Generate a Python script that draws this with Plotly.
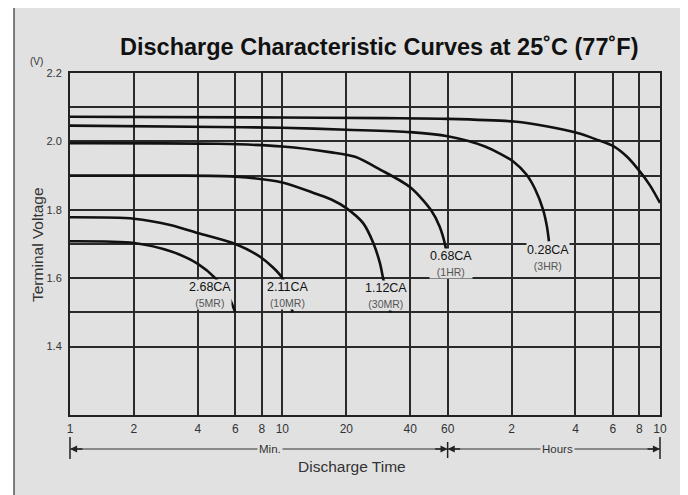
import math
import plotly.graph_objects as go

# ---------------- data (minutes, volts) ----------------
t_268 = [1, 2, 3, 4, 4.83, 5.6, 6]
v_268 = [1.708, 1.703, 1.678, 1.642, 1.6, 1.545, 1.5]

t_211 = [1, 2, 3, 4, 6, 8, 10, 10.8, 11.2]
v_211 = [1.778, 1.774, 1.755, 1.732, 1.70, 1.659, 1.6, 1.53, 1.5]

t_112 = [1, 3, 6, 10, 14.5, 17, 20, 24, 26.8, 28.8, 29.8, 31.5, 32.3]
v_112 = [1.9, 1.9, 1.897, 1.88, 1.846, 1.83, 1.805, 1.761, 1.703, 1.644, 1.6, 1.53, 1.5]

t_068 = [1, 5, 10, 17, 22, 29, 40, 50, 55, 58.6, 60, 61.5]
v_068 = [1.995, 1.993, 1.985, 1.968, 1.955, 1.917, 1.866, 1.8, 1.751, 1.693, 1.65, 1.6]

t_028 = [1, 5, 10, 20, 40, 60, 90, 123, 141, 155, 169, 176, 180]
v_028 = [2.046, 2.042, 2.04, 2.034, 2.027, 2.015, 1.985, 1.94, 1.903, 1.86, 1.8, 1.752, 1.708]

t_01 = [1, 10, 30, 60, 123, 180, 243, 300, 365, 420, 485, 540, 600]
v_01 = [2.072, 2.07, 2.068, 2.066, 2.058, 2.043, 2.025, 2.006, 1.985, 1.955, 1.91, 1.87, 1.82]

rate_labels = ["2.68CA", "2.11CA", "1.12CA", "0.68CA", "0.28CA", "0.1CA"]
dur_labels = ["5MR", "10MR", "30MR", "1HR", "3HR", "10HR"]

x_tickvals = [1, 2, 4, 6, 8, 10, 20, 40, 60, 120, 240, 360, 480, 600]
x_ticktext = ["1", "2", "4", "6", "8", "10", "20", "40", "60", "2", "4", "6", "8", "10"]
y_tickvals = [1.4, 1.5, 1.6, 1.7, 1.8, 1.9, 2.0, 2.1, 2.2]
y_ticktext = ["1.4", "", "1.6", "", "1.8", "", "2.0", "", "2.2"]

# ---------------- figure ----------------
BG = "#e1e1e1"
FONT = "Liberation Sans, Arial, sans-serif"
series = [(t_268, v_268), (t_211, v_211), (t_112, v_112),
          (t_068, v_068), (t_028, v_028), (t_01, v_01)]

fig = go.Figure()
for (t, v) in series:
    fig.add_trace(go.Scatter(x=t, y=v, mode="lines",
                             line=dict(color="#111111", width=2.6, shape="spline", smoothing=0.8),
                             hoverinfo="skip", showlegend=False))

# curve labels (positions in minutes / volts)
label_pos = [(4.56, 1.552), (10.6, 1.552), (30.7, 1.55), (61.9, 1.644), (179, 1.661), (616, 1.759)]
annotations = []
for (lx, ly), r, d in zip(label_pos, rate_labels, dur_labels):
    annotations.append(dict(
        x=math.log10(lx), y=ly, xref="x", yref="y", showarrow=False,
        xanchor="center", yanchor="middle",
        text=f"{r}<br><span style='font-size:10.5px;color:#555555'>({d})</span>",
        font=dict(family=FONT, size=12.5, color="#111111"),
        bgcolor=BG, borderpad=0, align="center"))

xmax = math.log10(x_tickvals[-1])
def dom(v):
    return math.log10(v) / xmax

# plot area on screen: x 70..660, y 73..415 (page has an 8px body margin)
def py(p):
    return (415 - p) / 342.0

def px(p):
    return (p - 70) / 590.0

arrow_y = py(449)
shapes = [
    # frame
    dict(type="rect", xref="paper", yref="paper", x0=px(14), x1=1.2,
         y0=-0.4, y1=py(7), line=dict(color="#555555", width=1.5), fillcolor=BG, layer="below"),
    # min/hours line
    dict(type="line", xref="x domain", yref="paper", x0=0, x1=1, y0=arrow_y, y1=arrow_y,
         line=dict(color="#333333", width=1.2)),
    dict(type="line", xref="x domain", yref="paper", x0=0, x1=0, y0=py(437), y1=py(459),
         line=dict(color="#222222", width=1.5)),
    dict(type="line", xref="x domain", yref="paper", x0=1, x1=1, y0=py(437), y1=py(459),
         line=dict(color="#222222", width=1.5)),
    dict(type="line", xref="x domain", yref="paper", x0=dom(60), x1=dom(60), y0=py(442), y1=py(458),
         line=dict(color="#222222", width=1.5)),
]

for xd, ax in [(0, 14), (dom(60), -14), (dom(60), 14), (1, -14)]:
    annotations.append(dict(x=xd, y=arrow_y, xref="x domain", yref="paper", text="",
                            showarrow=True, ax=ax, ay=0, arrowhead=2, arrowsize=1.1,
                            arrowwidth=1.3, arrowcolor="#222222", standoff=0))

def text_ann(x, y, text, size, color="#333333", bg=None, angle=0):
    d = dict(x=px(x), y=py(y), xref="paper", yref="paper", text=text, showarrow=False,
             xanchor="center", yanchor="middle", textangle=angle,
             font=dict(family=FONT, size=size, color=color))
    if bg:
        d["bgcolor"] = bg
        d["borderpad"] = 1
    return d

annotations += [
    text_ann(270, 449, "Min.", 11.5, bg=BG),
    text_ann(557, 449, "Hours", 11.5, bg=BG),
    text_ann(352, 467, "Discharge Time", 15.5),
    text_ann(37, 245, "Terminal Voltage", 15.5, angle=-90),
    text_ann(36, 62, "(V)", 10),
    text_ann(379, 47, "<b>Discharge Characteristic Curves at 25˚C (77˚F)</b>", 23.5, color="#111111"),
]

fig.update_layout(
    width=680, height=487,
    margin=dict(l=62, r=28, t=65, b=80, autoexpand=False),
    paper_bgcolor="white", plot_bgcolor=BG,
    showlegend=False,
    shapes=shapes, annotations=annotations,
    xaxis=dict(type="log", range=[0, xmax], tickmode="array", tickvals=x_tickvals,
               ticktext=x_ticktext, showgrid=True, gridcolor="#2a2a2a", gridwidth=1.5,
               showline=True, mirror=True, linecolor="#222222", linewidth=2, automargin=False,
               zeroline=False, ticks="", ticklabelstandoff=2,
               tickfont=dict(family=FONT, size=12, color="#333333")),
    yaxis=dict(range=[1.2, 2.2], tickmode="array", tickvals=y_tickvals, ticktext=y_ticktext,
               showgrid=True, gridcolor="#2a2a2a", gridwidth=1.5, automargin=False,
               showline=True, mirror=True, linecolor="#222222", linewidth=2,
               zeroline=False, ticks="", ticklabelstandoff=4,
               tickfont=dict(family=FONT, size=11, color="#333333")),
)

fig.write_html("out.html")
